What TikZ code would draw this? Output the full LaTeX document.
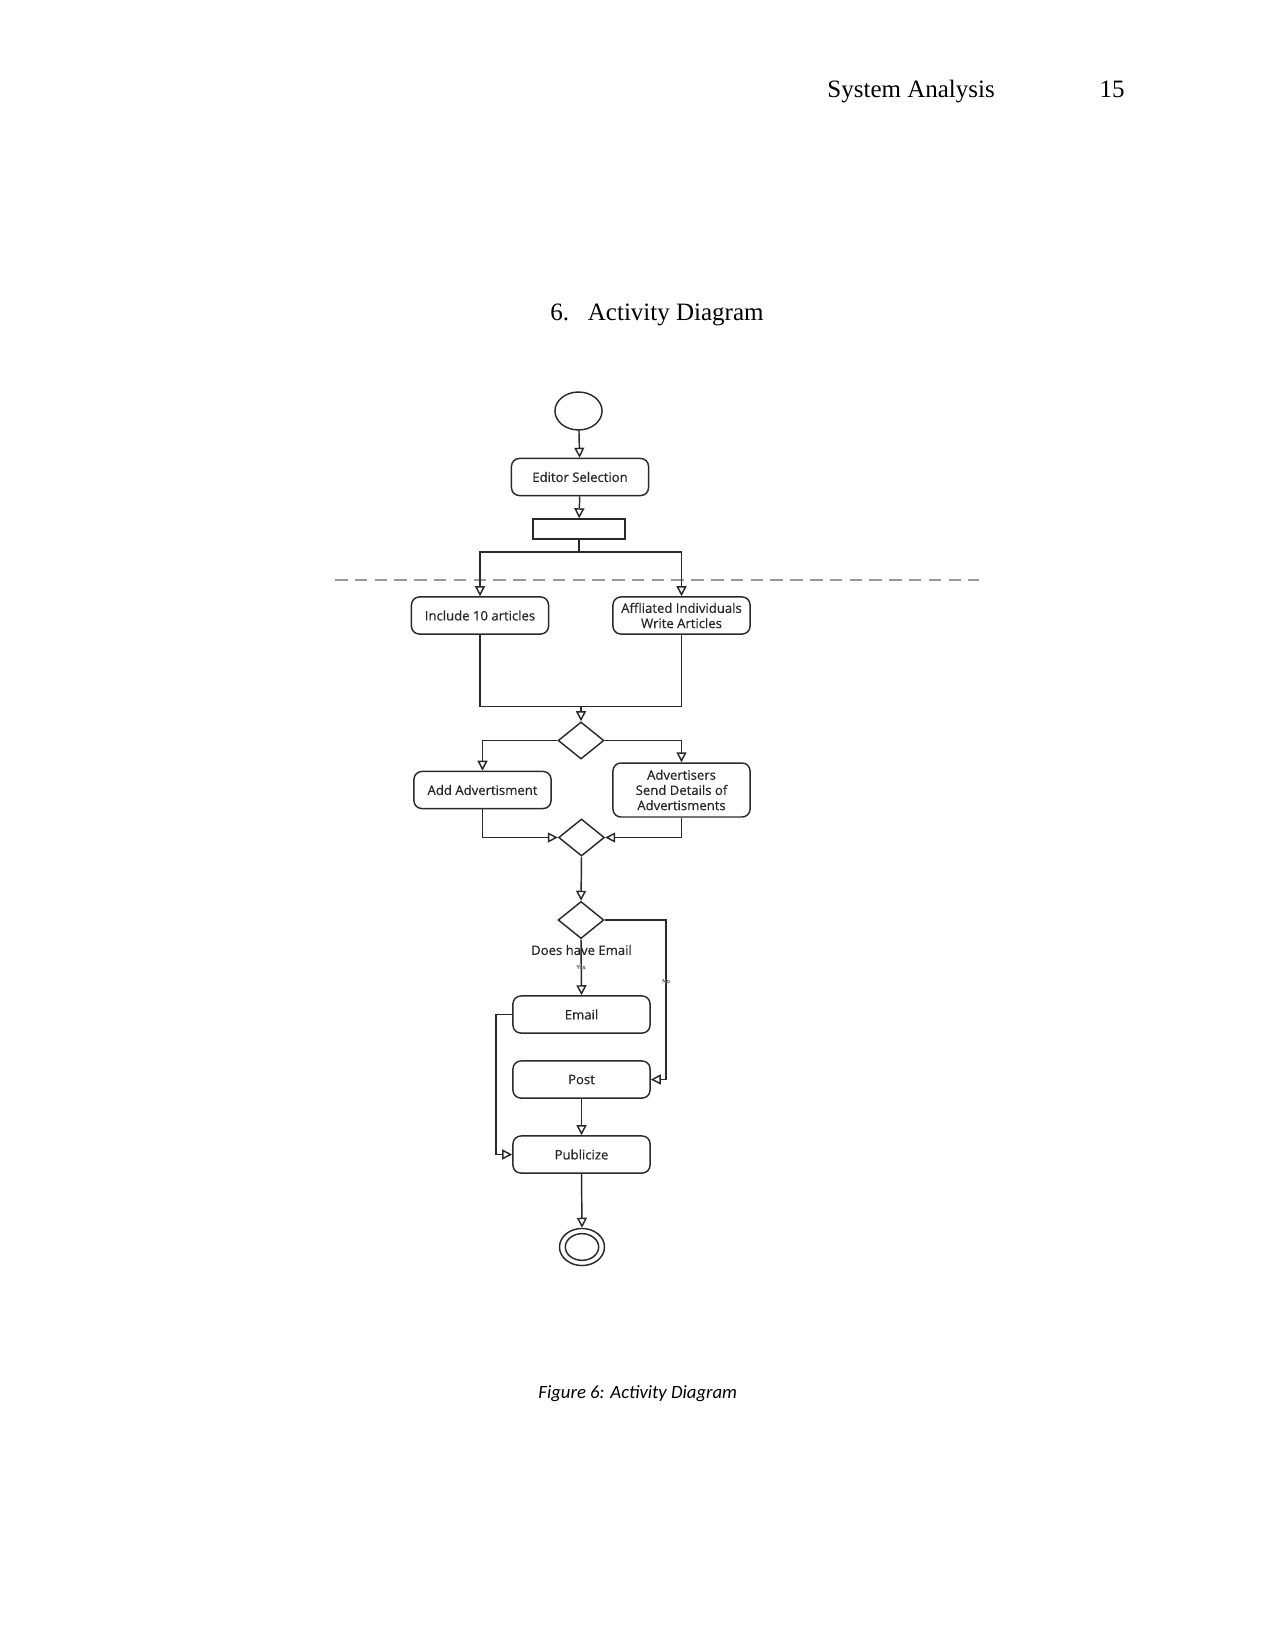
\documentclass[tikz,border=0pt]{standalone}
\usepackage{fontspec}
\setmainfont{Liberation Serif}
\newfontfamily\diafont[FakeBold=0.5]{Open Sans}
\newfontfamily\capfont{Carlito}
\usetikzlibrary{shapes.geometric,arrows.meta}
\definecolor{ln}{HTML}{2A2A2A}
\tikzset{
  act/.style={draw=ln, line width=0.7pt, rounded corners=3.8pt, minimum width=65.8pt, minimum height=17.8pt, inner sep=0pt, align=center, font=\diafont\fontsize{6.3}{7.3}\selectfont, text=black!85},
  dec/.style={draw=ln, line width=0.7pt, diamond, minimum width=22pt, minimum height=17.8pt, inner sep=0pt},
  conn/.style={draw=ln, line width=0.7pt},
  arr/.style={conn, -{Triangle[open, length=4.8pt, width=4.8pt]}},
  tiny/.style={font=\diafont\fontsize{2.8}{3}\selectfont, text=black!60, inner sep=0pt}
}
\begin{document}
\begin{tikzpicture}[x=0.48pt,y=-0.48pt]
\useasboundingbox (0,0) rectangle (1275,1651);
% header
\node[anchor=base west, inner sep=0pt, font=\fontsize{12}{14}\selectfont] (hdr) at (827,98) {System Analysis};
\node[anchor=base east, inner sep=0pt, font=\fontsize{12}{14}\selectfont] (pg) at (1125,98) {15};
\node[anchor=base west, inner sep=0pt, font=\fontsize{12}{14}\selectfont] (tnum) at (550,320) {6.};
\node[anchor=base west, inner sep=0pt, font=\fontsize{12}{14}\selectfont] (ttl) at (587.5,320) {Activity Diagram};
% separator
\coordinate (dashL) at (335,580);
\coordinate (dashR) at (979,580);
\draw[black!40, line width=0.6pt, dash pattern=on 6pt off 3.5pt] (dashL) -- (dashR);
% nodes
\node[draw=ln, line width=0.7pt, ellipse, minimum width=22.6pt, minimum height=18.2pt, inner sep=0pt] (start) at (578.5,411) {};
\node[act] (editor) at (580,477) {Editor Selection};
\node[draw=ln, line width=0.7pt, minimum width=44.2pt, minimum height=9.6pt, inner sep=0pt] (bar) at (579,529) {};
\node[act] (inc) at (480,615.5) {Include 10 articles};
\node[act] (aff) at (681.5,615.5) {Affliated Individuals\\Write Articles};
\node[dec] (d1) at (581,740.5) {};
\node[act] (add) at (482.5,790) {Add Advertisment};
\node[act, minimum height=25.9pt] (adv) at (681.5,790) {Advertisers\\Send Details of\\Advertisments};
\node[dec] (d2) at (581.5,837.5) {};
\node[dec] (d3) at (581,920) {};
\node[act] (email) at (581.5,1014.5) {Email};
\node[act] (post) at (581.5,1079.5) {Post};
\node[act] (pub) at (581.5,1154.5) {Publicize};
\node[draw=ln, line width=0.7pt, ellipse, minimum width=21.6pt, minimum height=17.8pt, inner sep=0pt] (end) at (582,1247) {};
\node[draw=ln, line width=0.7pt, ellipse, minimum width=16pt, minimum height=12.8pt, inner sep=0pt] (endin) at (582,1247) {};
% coordinates
\coordinate (forkL) at (480,552);
\coordinate (forkR) at (681.5,552);
\coordinate (join) at (581,706.5);
\coordinate (nocorner) at (666,920);
\coordinate (ecorner) at (496,1014.5);
% connectors
\draw[arr] (start) -- (editor);
\draw[arr] (editor) -- (bar);
\draw[conn] (bar.south) -- (bar.south |- forkL);
\draw[arr] (bar.south |- forkL) -| (inc.north);
\draw[arr] (bar.south |- forkR) -| (aff.north);
\draw[conn] (inc.south) |- (join);
\draw[conn] (aff.south) |- (join);
\draw[arr] (join) -- (d1.north);
\draw[arr] (d1.west) -| (add.north);
\draw[arr] (d1.east) -| (adv.north);
\draw[arr] (add.south) |- (d2.west);
\draw[arr] (adv.south) |- (d2.east);
\draw[arr] (d2.south) -- (d3.north);
\draw[arr] (d3.south) -- (email.north);
\draw[arr] (d3.east) -- (nocorner) |- (post.east);
\draw[arr] (email.west) -- (ecorner) |- (pub.west);
\draw[arr] (post.south) -- (pub.north);
\draw[arr] (pub.south) -- (end.north);
% labels
\node[inner sep=0pt, font=\diafont\fontsize{6.3}{7}\selectfont, text=black!85] (ask) at (581.5,950) {Does have Email};
\node[tiny] (yes) at (581,967) {Yes};
\node[tiny] (no) at (666,981) {No};
% caption
\node[anchor=base west, inner sep=0pt, font=\capfont\itshape\fontsize{9}{11}\selectfont] (cap) at (538,1398) {Figure 6: Activity Diagram};
\end{tikzpicture}
\end{document}
